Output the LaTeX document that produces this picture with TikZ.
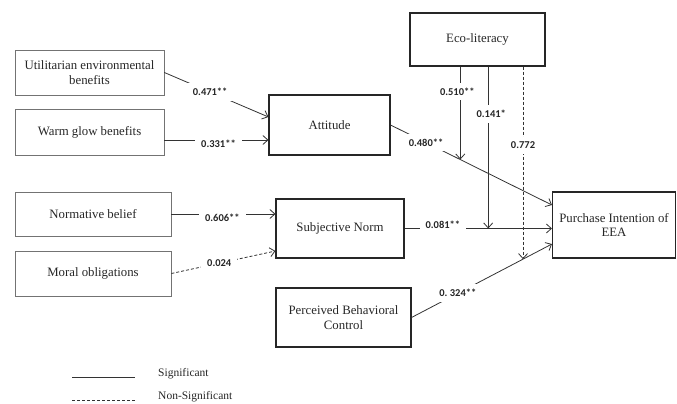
\documentclass[tikz,border=0pt]{standalone}
\usepackage{fontspec}
\setmainfont{Liberation Serif}
\newfontfamily\lblfont{Carlito}
\usetikzlibrary{arrows.meta}
\begin{document}
\begin{tikzpicture}[x=1pt,y=-1pt,
  inbox/.style={draw=black!55,line width=0.7pt,inner sep=0pt,align=center,font=\fontsize{12.8}{14.5}\selectfont,text=black!85},
  cbox/.style={draw=black!85,line width=1.1pt,inner sep=0pt,align=center,font=\fontsize{12.8}{14.5}\selectfont,text=black!85},
  conn/.style={draw=black!80,line width=0.8pt,-{Straight Barb[length=5pt,width=9pt]}},
  nsconn/.style={conn,dash pattern=on 3pt off 2pt},
  coef/.style={fill=white,inner xsep=6pt,inner ysep=5pt,font=\lblfont\bfseries\fontsize{10.5}{12}\selectfont,text=black!85},
  legtext/.style={anchor=west,inner sep=0pt,font=\fontsize{11.5}{13}\selectfont,text=black!85}]
\useasboundingbox (0,0) rectangle (677,404);
% boxes
\node[inbox,minimum width=149pt,minimum height=45pt] (util) at (89.5,72.5) {Utilitarian environmental\\benefits};
\node[inbox,minimum width=149pt,minimum height=46pt] (warm) at (89.5,132) {Warm glow benefits};
\node[inbox,minimum width=156pt,minimum height=44pt] (norm) at (93,214) {Normative belief};
\node[inbox,minimum width=156pt,minimum height=45pt] (moral) at (93,273.5) {Moral obligations};
\node[cbox,minimum width=121pt,minimum height=60pt] (att) at (329.5,125) {Attitude};
\node[cbox,minimum width=128pt,minimum height=59pt] (sn) at (340,228.5) {Subjective Norm};
\node[cbox,minimum width=135pt,minimum height=59pt] (pbc) at (343.5,317.5) {Perceived Behavioral\\Control};
\node[cbox,minimum width=135pt,minimum height=53pt] (eco) at (477.5,39.5) {Eco-literacy};
\node[cbox,minimum width=123pt,minimum height=66pt] (pi) at (614,225) {Purchase Intention of\\EEA};
% predictors
\draw[conn] (util.east) -- node[coef,pos=0.44] (c1) {0.471**} ([yshift=8pt]att.west);
\draw[conn] ([yshift=-8pt]warm.east) -- node[coef,pos=0.52,yshift=-4pt] (c2) {0.331**} ([yshift=-15pt]att.west);
\draw[conn] (norm.east) -- node[coef,pos=0.49,yshift=-4pt] (c3) {0.606**} ([yshift=14.5pt]sn.west);
\draw[nsconn] (moral.east) -- node[coef,pos=0.46] (c4) {0.024} ([yshift=-22.5pt]sn.west);
% to purchase intention
\draw[conn] (att.east) -- node[coef,pos=0.22] (c5) {0.480**} coordinate[pos=0.432] (m1) ([yshift=20pt]pi.west);
\draw[conn] (sn.east) -- node[coef,pos=0.26,yshift=4pt] (c6) {0.081**} coordinate[pos=0.5676] (m2) (sn.east -| pi.west);
\draw[conn] (pbc.east) -- node[coef,pos=0.33] (c7) {0.~324**} coordinate[pos=0.794] (m3) ([yshift=-19pt]pi.west);
% moderation
\draw[conn] (eco.south -| m1) -- node[coef,pos=0.27,xshift=-3pt] (c8) {0.510**} (m1);
\draw[conn] (eco.south -| m2) -- node[coef,pos=0.294,xshift=3pt] (c9) {0.141*} (m2);
\draw[nsconn] (eco.south -| m3) -- node[coef,pos=0.408] (c10) {0.772} (m3);
% legend
\coordinate (l1a) at (72,377); \coordinate (l1b) at (135,377);
\coordinate (l2a) at (72,400); \coordinate (l2b) at (135,400);
\draw[draw=black!80,line width=0.8pt] (l1a) -- (l1b);
\draw[draw=black!80,line width=0.8pt,dash pattern=on 3pt off 2pt] (l2a) -- (l2b);
\node[legtext] (lg1) at (158,374) {Significant};
\node[legtext] (lg2) at (158,397) {Non-Significant};
\end{tikzpicture}
\end{document}
